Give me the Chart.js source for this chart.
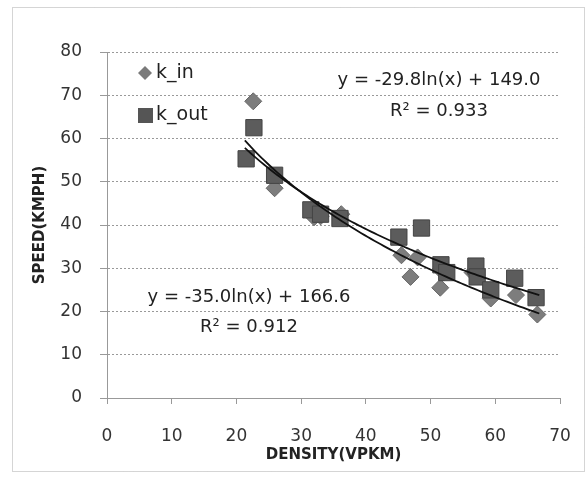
<!DOCTYPE html>
<html>
<head>
<meta charset="utf-8">
<script src="https://cdn.jsdelivr.net/npm/chart.js@4"></script>
<style>
  html, body { margin: 0; padding: 0; background: #fff; }
</style>
</head>
<body>
<canvas id="myChart" width="586" height="477"></canvas>
<script>
// --- Data ---
const kInX = [22.6, 25.9, 32.0, 33.0, 36.2, 45.5, 46.9, 48.0, 51.5, 52.0, 56.5, 59.3, 63.2, 66.5]
const kInY = [68.6, 48.5, 41.8, 42.0, 42.5, 33.0, 28.0, 32.5, 25.5, 29.0, 29.0, 23.0, 23.8, 19.3]

const kOutX = [22.7, 21.5, 25.9, 31.5, 33.0, 36.0, 45.1, 48.6, 51.6, 52.5, 57.0, 57.2, 59.3, 63.0, 66.3]
const kOutY = [62.5, 55.3, 51.5, 43.5, 42.5, 41.5, 37.2, 39.3, 30.8, 29.0, 30.5, 28.0, 25.0, 27.7, 23.2]

// trendline coefficients as printed on the chart: y = a*ln(x) + b
const trendIn = [-35.0, 166.6]
const trendOut = [-29.8, 149.0]
const trendRange = [21.3, 67.0]

const eqIn = ['y = -35.0ln(x) + 166.6', 'R\u00b2 = 0.912']
const eqOut = ['y = -29.8ln(x) + 149.0', 'R\u00b2 = 0.933']

const xTicks = [0, 10, 20, 30, 40, 50, 60, 70]
const yTicks = [0, 10, 20, 30, 40, 50, 60, 70, 80]

// --- Build points ---
function toPoints(xs, ys) {
    let pts = []
    for (let i = 0; i < xs.length; i++) {
        pts.push({ x: xs[i], y: ys[i] })
    }
    return pts
}

function trendPoints(coef) {
    let pts = []
    for (let x = trendRange[0]; x <= trendRange[1] + 0.001; x += 0.5) {
        pts.push({ x: x, y: coef[0] * Math.log(x) + coef[1] })
    }
    return pts
}

// --- Extra drawing: frame, legend, equations ---
const extras = {
    id: 'extras',
    beforeDraw(chart) {
        const c = chart.ctx
        c.save()
        c.strokeStyle = '#aaa'
        c.lineWidth = 1
        c.setLineDash([1, 1])
        c.strokeRect(12.5, 7.5, 572, 464)
        c.restore()
    },
    afterDraw(chart) {
        const c = chart.ctx
        c.save()
        c.fillStyle = '#222'
        c.font = '18px "DejaVu Sans"'
        c.textAlign = 'center'
        c.textBaseline = 'middle'
        c.fillText(eqOut[0], 439, 80)
        c.fillText(eqOut[1], 439, 111)
        c.fillText(eqIn[0], 249, 297)
        c.fillText(eqIn[1], 249, 327)

        // legend
        c.textAlign = 'left'
        c.font = '19px "DejaVu Sans"'
        c.fillText('k_in', 156, 73)
        c.fillText('k_out', 156, 115)
        c.fillStyle = '#7a7a7a'
        c.beginPath()
        c.moveTo(145, 66); c.lineTo(152, 73); c.lineTo(145, 80); c.lineTo(138, 73)
        c.closePath()
        c.fill()
        c.fillStyle = '#555'
        c.fillRect(138, 108, 15, 15)
        c.restore()
    }
}

// --- Build chart ---
const ctx = document.getElementById('myChart').getContext('2d')

const myChart = new Chart(ctx, {
    type: 'scatter',
    data: {
        datasets: [
            {
                label: 'k_in trend',
                data: trendPoints(trendIn),
                showLine: true,
                borderColor: '#111',
                borderWidth: 1.8,
                pointRadius: 0,
                order: 0
            },
            {
                label: 'k_out trend',
                data: trendPoints(trendOut),
                showLine: true,
                borderColor: '#111',
                borderWidth: 1.8,
                pointRadius: 0,
                order: 0
            },
            {
                label: 'k_out',
                data: toPoints(kOutX, kOutY),
                pointStyle: 'rect',
                pointRadius: 11.5,
                backgroundColor: '#5c5c5c',
                borderColor: '#444',
                borderWidth: 1,
                order: 1
            },
            {
                label: 'k_in',
                data: toPoints(kInX, kInY),
                pointStyle: 'rectRot',
                pointRadius: 8.5,
                backgroundColor: '#7d7d7d',
                borderColor: '#666',
                borderWidth: 1,
                order: 2
            }
        ]
    },
    options: {
        responsive: false,
        animation: false,
        layout: { padding: { left: 12, top: 52, right: 26, bottom: 10 } },
        plugins: {
            legend: { display: false },
            tooltip: { enabled: false }
        },
        scales: {
            x: {
                type: 'linear',
                min: xTicks[0],
                max: xTicks[xTicks.length - 1],
                afterFit(scale) {
                    scale.height = 69
                    scale.paddingLeft = 0
                    scale.paddingRight = 0
                },
                afterBuildTicks(scale) { scale.ticks = xTicks.map(v => ({ value: v })) },
                grid: { drawOnChartArea: false, drawTicks: true, tickLength: 6, color: '#999' },
                border: { display: true, color: '#999', width: 1 },
                ticks: { padding: 22, maxRotation: 0, color: '#333', font: { family: 'DejaVu Sans', size: 17 } },
                title: {
                    display: true,
                    text: 'DENSITY(VPKM)',
                    color: '#222',
                    padding: { top: 0, bottom: 3 },
                    font: { family: 'DejaVu Sans', size: 15, weight: 'bold' }
                }
            },
            y: {
                type: 'linear',
                min: yTicks[0],
                max: yTicks[yTicks.length - 1],
                afterFit(scale) {
                    scale.width = 95
                    scale.paddingTop = 0
                    scale.paddingBottom = 0
                },
                afterBuildTicks(scale) { scale.ticks = yTicks.map(v => ({ value: v })) },
                grid: { color: '#999', tickLength: 7, tickBorderDash: [] },
                border: { display: true, color: '#999', width: 1, dash: [2, 2] },
                ticks: { padding: 18, color: '#333', font: { family: 'DejaVu Sans', size: 17 } },
                title: {
                    display: true,
                    text: 'SPEED(KMPH)',
                    color: '#222',
                    padding: { top: 19, bottom: 0 },
                    font: { family: 'DejaVu Sans', size: 15, weight: 'bold' }
                }
            }
        }
    },
    plugins: [extras]
})
</script>
</body>
</html>
